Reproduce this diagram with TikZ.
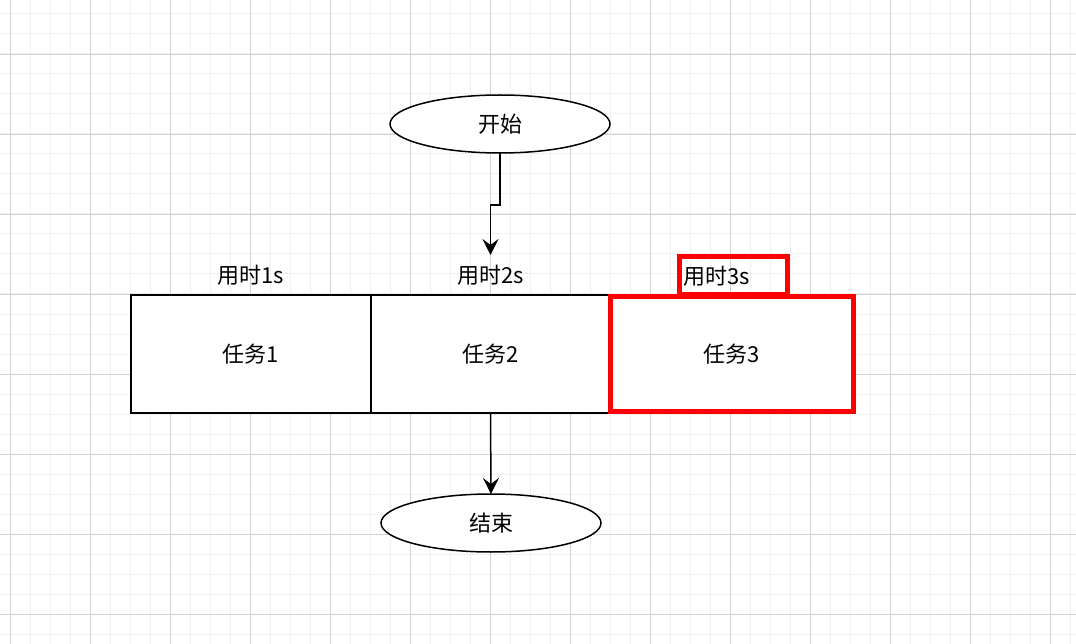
\documentclass[tikz,border=0pt]{standalone}
\usepackage{fontspec}
\setmainfont{Noto Sans CJK SC}
\usepackage{xcolor}
\usepackage{tikz}
\usetikzlibrary{positioning,shapes.geometric,arrows.meta}
\definecolor{gridminor}{RGB}{240,240,240}
\definecolor{gridmajor}{RGB}{210,210,210}
\definecolor{markred}{RGB}{255,0,0}

\begin{document}
\begin{tikzpicture}[x=1pt,y=-1pt,
  every node/.style={font=\fontsize{22}{26}\selectfont, outer sep=0pt},
  term/.style={draw, ellipse, line width=1.5pt, minimum width=220pt, minimum height=58pt, fill=white},
  task/.style={draw, rectangle, line width=1.5pt, minimum width=240pt, minimum height=118pt, fill=white},
  cost/.style={rectangle, minimum width=80pt, minimum height=40pt},
  flow/.style={-{Stealth[length=16pt,width=16pt,inset=6pt]}, line width=1.5pt}]
\useasboundingbox (0,0) rectangle (1076,644);
% Grid
\fill[white] (0,0) rectangle (1076,644);
\foreach \gx in {10,30,...,1070} \draw[gridminor, line width=1pt] (\gx,0) -- (\gx,644);
\foreach \gy in {14,34,...,634} \draw[gridminor, line width=1pt] (0,\gy) -- (1076,\gy);
\foreach \gx in {10,90,...,1050} \draw[gridmajor, line width=0.8pt] (\gx,0) -- (\gx,644);
\foreach \gy in {54,134,...,614} \draw[gridmajor, line width=0.8pt] (0,\gy) -- (1076,\gy);

% Nodes
\node[term] (start) at (500,124) {开始};
\node[task] (task1) at (251,354) {任务1};
\node[task, minimum width=239pt] (task2) at (490.5,354) {任务2};
\node[task, draw=markred, line width=5pt, minimum width=243pt, minimum height=114pt] (task3) at (731.5,354) {任务3};
\node[term] (end) at (491,523) {结束};
\node[cost, above=0pt of task1] (cost1) {用时1s};
\node[cost, above=0pt of task2] (cost2) {用时2s};
\node[cost, draw=markred, line width=5pt, minimum width=108pt, minimum height=38pt,
      inner xsep=4pt, text width=100pt, align=left] (cost3) at (733,276) {用时3s};

% Arrows
\draw[flow] (start.south) -- ++(0,52) -| (cost2.north);
\draw[flow] (task2.south) -- (end.north);
\end{tikzpicture}
\end{document}
